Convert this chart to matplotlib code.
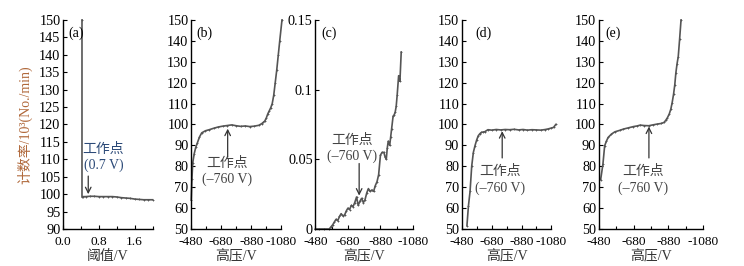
import matplotlib
matplotlib.use("Agg")
import matplotlib.pyplot as plt
from matplotlib.ticker import MultipleLocator, FixedLocator

plt.rcParams['font.family'] = ['Liberation Serif', 'Noto Sans CJK SC']

# (a) 计数率 vs 阈值
a_x = [0.42, 0.42, 0.45, 0.5, 0.6, 0.7, 0.8, 0.9, 1.0, 1.1, 1.2, 1.3, 1.4, 1.5, 1.6, 1.7, 1.8, 1.9, 2.0]
a_y = [150, 99.2, 99.3, 99.3, 99.4, 99.4, 99.3, 99.3, 99.3, 99.3, 99.2, 99.0, 98.9, 98.8, 98.6, 98.5, 98.4, 98.4, 98.4]

# (b)
b_x = [-480, -485, -490, -500, -510, -520, -535, -550, -575, -600, -630, -660, -690, -720, -750, -780,
       -810, -840, -870, -900, -930, -950, -960, -970, -980, -990, -1000, -1010, -1020, -1030, -1040,
       -1050, -1060, -1070, -1085]
b_y = [64, 74, 81.6, 86, 89, 91, 94, 96, 97, 97.5, 98.2, 98.8, 99.2, 99.5, 99.8, 99.4,
       99.1, 99.3, 99, 99.2, 99.6, 100.4, 101, 101.6, 103, 105, 106.5, 108, 110, 114, 120,
       126, 133, 140, 150]

# (c)
c_x = [-480, -500, -530, -565, -575, -586, -596, -607, -617, -628, -638, -648, -659, -670, -680, -690,
       -701, -711, -722, -733, -743, -754, -764, -775, -785, -796, -806, -816, -827, -838, -848, -859,
       -869, -880, -890, -901, -908, -916, -922, -928, -937, -943, -949, -958, -965, -971, -977, -983,
       -992, -1000, -1008]
c_y = [0, 0, 0, 0, 0.0015, 0.003, 0.005, 0.007, 0.006, 0.009, 0.011, 0.0095, 0.010, 0.013, 0.015, 0.014,
       0.017, 0.016, 0.019, 0.023, 0.017, 0.020, 0.022, 0.019, 0.021, 0.026, 0.029, 0.027, 0.028, 0.027, 0.031, 0.034,
       0.039, 0.053, 0.055, 0.055, 0.052, 0.050, 0.058, 0.063, 0.060, 0.066, 0.072, 0.081, 0.082, 0.084, 0.088, 0.096,
       0.110, 0.106, 0.127]

# (d)
d_x = [-513, -523, -534, -545, -556, -567, -578, -589, -600, -610, -621, -632, -654, -680, -710, -740,
       -770, -800, -830, -860, -890, -920, -950, -980, -1010, -1040, -1060, -1080, -1095, -1110]
d_y = [51.6, 61, 68, 80, 86.6, 89.8, 92.5, 94.6, 95.6, 96.2, 96.4, 96.5, 97.5, 97.3, 97.6, 97.4,
       97.6, 97.5, 97.7, 97.4, 97.6, 97.3, 97.5, 97.4, 97.3, 97.6, 97.9, 98.3, 98.6, 100]

# (e)
e_x = [-490, -503, -513, -523, -533, -552, -572, -600, -621, -650, -679, -700, -718, -740, -767, -790,
       -816, -840, -855, -865, -875, -885, -894, -902, -910, -917, -923, -930, -937, -945, -953]
e_y = [73.6, 81, 89.8, 92, 93.8, 95.4, 96.5, 97.2, 97.8, 98.4, 99, 99.3, 99.7, 99.5, 99.4, 99.8,
       100.2, 100.5, 101, 102, 103.3, 105, 107.3, 110.5, 114.5, 119, 124.5, 129, 132.5, 141, 150]

# 工作点标注: 文字中心 (x, y), 箭头起点 (x, y) -> 终点 (x, y)
wp_text = [(0.9, 110.5), (-717, 77.5), (-706, 0.058), (-736, 73.4), (-734, 73.4)]
wp_arrow = [((0.56, 105.2), (0.56, 100.0)), ((-723, 84.4), (-723, 98.0)),
            ((-749, 0.047), (-749, 0.024)), ((-750, 84.0), (-750, 96.8)),
            ((-768, 84.0), (-768, 99.0))]
wp_label = ['工作点\n(0.7 V)'] + ['工作点\n(\u2013760 V)'] * 4

fig = plt.figure(figsize=(7.44, 2.66), dpi=100)

bottom, height = 0.139, 0.786
boxes = [(0.085, 0.120), (0.257, 0.121), (0.424, 0.131), (0.621, 0.120), (0.805, 0.140)]
line_c = '#555555'
ann_c = '#444444'
fs = 10
tfs = 10.3
xtfs = 9.6


def style(ax):
    for s in ['top', 'right']:
        ax.spines[s].set_visible(False)
    for s in ['left', 'bottom']:
        ax.spines[s].set_linewidth(1.0)
    ax.tick_params(direction='in', length=3, width=0.8, labelsize=tfs, pad=2)
    ax.tick_params(axis='x', labelsize=xtfs, pad=5)
    ax.tick_params(which='minor', direction='in', length=2.5, width=0.8)


axes = [fig.add_axes([l, bottom, w, height]) for l, w in boxes]

# (a)
ax = axes[0]
ax.plot(a_x, a_y, color=line_c, lw=1.2, marker='+', ms=2, mew=0.6, clip_on=False)
ax.set_xlim(0, 2.0)
ax.set_ylim(90, 150)
ax.set_yticks(range(90, 151, 5))
ax.set_xticks([0.0, 0.8, 1.6])
ax.set_xticklabels(['0.0', '0.8', '1.6'])
ax.xaxis.set_minor_locator(MultipleLocator(0.4))
ax.set_xlabel('阈值/V', fontsize=fs, labelpad=1.5, color='#333333')
ax.set_ylabel('计数率/10³(No./min)', fontsize=fs, color='#b0683a', labelpad=5)
ax.text(0.06, 0.97, '(a)', transform=ax.transAxes, fontsize=fs, va='top')

hv_ticks = [-480, -680, -880, -1080]
hv_labels = ['-480', '-680', '-880', '-1080']

data = [(b_x, b_y), (c_x, c_y), (d_x, d_y), (e_x, e_y)]
tags = ['(b)', '(c)', '(d)', '(e)']
for ax, (xs, ys), tag in zip(axes[1:], data, tags):
    ax.plot(xs, ys, color=line_c, lw=1.2, marker='+', ms=2, mew=0.6, clip_on=False)
    ax.set_xlim(-480, -1080)
    ax.set_xticks(hv_ticks)
    ax.set_xticklabels(hv_labels)
    ax.xaxis.set_minor_locator(FixedLocator(range(-580, -1081, -200)))
    ax.set_xlabel('高压/V', fontsize=fs, labelpad=1.5, color='#333333')
    ax.text(0.06 if tag != '(d)' else 0.15, 0.97, tag, transform=ax.transAxes, fontsize=fs, va='top')
    if tag == '(c)':
        ax.set_ylim(0, 0.15)
        ax.set_yticks([0, 0.05, 0.1, 0.15])
        ax.set_yticklabels(['0', '0.05', '0.1', '0.15'])
    else:
        ax.set_ylim(50, 150)
        ax.set_yticks(range(50, 151, 10))

for i, ax in enumerate(axes):
    tc = '#2c4a78' if i == 0 else ann_c
    ax.text(wp_text[i][0], wp_text[i][1], wp_label[i], fontsize=fs, ha='center', va='center',
            color=tc, linespacing=1.3)
    (x0, y0), (x1, y1) = wp_arrow[i]
    ax.annotate('', xy=(x1, y1), xytext=(x0, y0),
                arrowprops=dict(arrowstyle='->', color='#333333', lw=0.9, shrinkA=0, shrinkB=0))
    style(ax)

fig.savefig('out.png', dpi=100)
